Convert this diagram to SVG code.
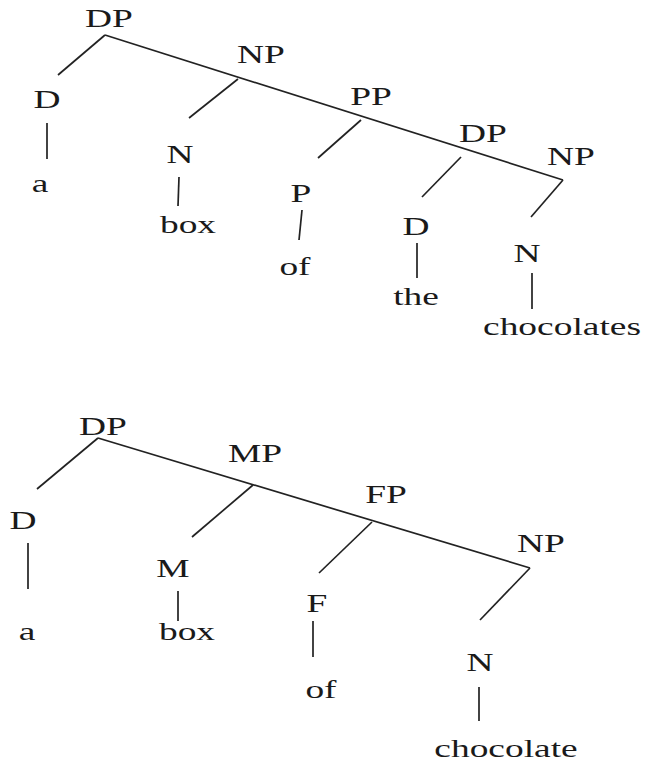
<svg xmlns="http://www.w3.org/2000/svg" width="645" height="765" viewBox="0 0 645 765">
<style>
  .lbl { font-family: "Liberation Serif", "Times New Roman", serif; font-size: 26px; fill: #1a1a1a; text-anchor: middle; }
  .edge { stroke: #222; stroke-width: 1.7; fill: none; stroke-linecap: butt; }
</style>
<rect width="645" height="765" fill="#ffffff"/>
<g id="connectors">
  <polyline class="edge" points="105,35 563,180"/>
  <line class="edge" x1="105" y1="35" x2="58" y2="75"/>
  <line class="edge" x1="47" y1="123" x2="47" y2="159"/>
  <line class="edge" x1="238" y1="79" x2="189" y2="118"/>
  <line class="edge" x1="179" y1="177" x2="178" y2="206"/>
  <line class="edge" x1="361" y1="120" x2="318" y2="158"/>
  <line class="edge" x1="302" y1="210" x2="299" y2="240"/>
  <line class="edge" x1="461" y1="157" x2="422" y2="197"/>
  <line class="edge" x1="417" y1="243" x2="417" y2="278"/>
  <line class="edge" x1="563" y1="180" x2="531" y2="217"/>
  <line class="edge" x1="532" y1="273" x2="532" y2="309"/>

  <line class="edge" x1="98" y1="438" x2="530" y2="568"/>
  <line class="edge" x1="98" y1="438" x2="37" y2="489"/>
  <line class="edge" x1="28" y1="543" x2="28" y2="589"/>
  <line class="edge" x1="253" y1="485" x2="192" y2="537"/>
  <line class="edge" x1="178" y1="591" x2="178" y2="621"/>
  <line class="edge" x1="372" y1="522" x2="319" y2="573"/>
  <line class="edge" x1="313" y1="621" x2="313" y2="657"/>
  <line class="edge" x1="530" y1="568" x2="480" y2="620"/>
  <line class="edge" x1="479" y1="687" x2="479" y2="721"/>
</g>
<g id="t1-DP"><text class="lbl" transform="translate(109,27) scale(1.44,1)">DP</text></g>
<g id="t1-D"><text class="lbl" transform="translate(47,108) scale(1.44,1)">D</text></g>
<g id="t1-a"><text class="lbl" transform="translate(40,192) scale(1.44,1)">a</text></g>
<g id="t1-NP"><text class="lbl" transform="translate(261,63) scale(1.44,1)">NP</text></g>
<g id="t1-N"><text class="lbl" transform="translate(180,163) scale(1.44,1)">N</text></g>
<g id="t1-box"><text class="lbl" transform="translate(188,233) scale(1.44,1)">box</text></g>
<g id="t1-PP"><text class="lbl" transform="translate(371,105) scale(1.44,1)">PP</text></g>
<g id="t1-P"><text class="lbl" transform="translate(301,202) scale(1.44,1)">P</text></g>
<g id="t1-of"><text class="lbl" transform="translate(295,275) scale(1.44,1)">of</text></g>
<g id="t1-DP2"><text class="lbl" transform="translate(483,142) scale(1.44,1)">DP</text></g>
<g id="t1-D2"><text class="lbl" transform="translate(416,235) scale(1.44,1)">D</text></g>
<g id="t1-the"><text class="lbl" transform="translate(416,305) scale(1.44,1)">the</text></g>
<g id="t1-NP2"><text class="lbl" transform="translate(571,165) scale(1.44,1)">NP</text></g>
<g id="t1-N2"><text class="lbl" transform="translate(527,262) scale(1.44,1)">N</text></g>
<g id="t1-chocolates"><text class="lbl" transform="translate(562,335) scale(1.44,1)">chocolates</text></g>

<g id="t2-DP"><text class="lbl" transform="translate(103,435) scale(1.44,1)">DP</text></g>
<g id="t2-D"><text class="lbl" transform="translate(23,529) scale(1.44,1)">D</text></g>
<g id="t2-a"><text class="lbl" transform="translate(27,640) scale(1.44,1)">a</text></g>
<g id="t2-MP"><text class="lbl" transform="translate(255,462) scale(1.44,1)">MP</text></g>
<g id="t2-M"><text class="lbl" transform="translate(173,577) scale(1.44,1)">M</text></g>
<g id="t2-box"><text class="lbl" transform="translate(187,640) scale(1.44,1)">box</text></g>
<g id="t2-FP"><text class="lbl" transform="translate(386,503) scale(1.44,1)">FP</text></g>
<g id="t2-F"><text class="lbl" transform="translate(317,612) scale(1.44,1)">F</text></g>
<g id="t2-of"><text class="lbl" transform="translate(321,698) scale(1.44,1)">of</text></g>
<g id="t2-NP"><text class="lbl" transform="translate(541,552) scale(1.44,1)">NP</text></g>
<g id="t2-N"><text class="lbl" transform="translate(480,671) scale(1.44,1)">N</text></g>
<g id="t2-chocolate"><text class="lbl" transform="translate(506,757) scale(1.44,1)">chocolate</text></g>
</svg>
